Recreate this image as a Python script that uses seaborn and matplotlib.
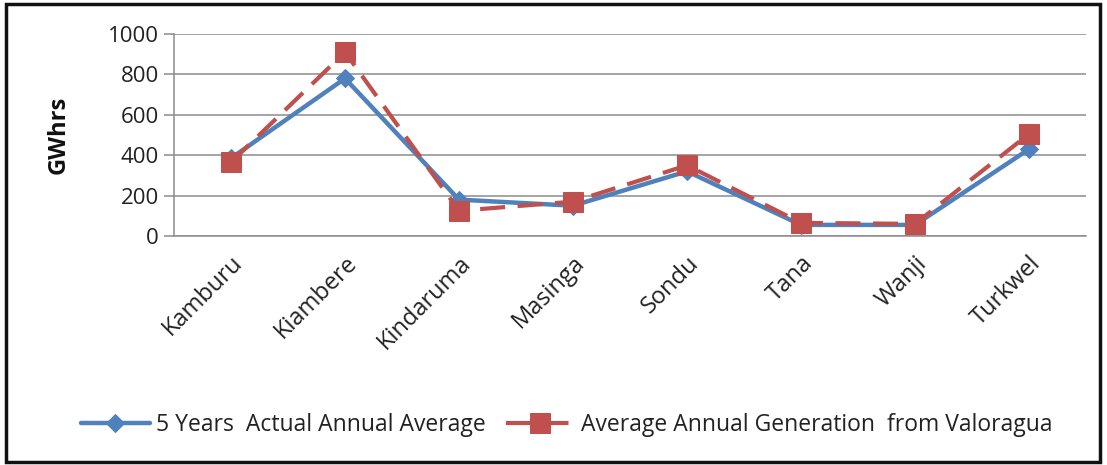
import matplotlib
matplotlib.use("Agg")
import matplotlib.pyplot as plt
from matplotlib.patches import Rectangle
import seaborn as sns
import pandas as pd

stations = ["Kamburu", "Kiambere", "Kindaruma", "Masinga", "Sondu", "Tana", "Wanji", "Turkwel"]
actual_avg = [385, 780, 180, 150, 320, 55, 55, 430]
valoragua_avg = [365, 910, 125, 170, 350, 65, 60, 505]
y_ticks = [0, 200, 400, 600, 800, 1000]

label_actual = "5 Years  Actual Annual Average"
label_valoragua = "Average Annual Generation  from Valoragua"

sns.set_theme(style="white")
plt.rcParams["font.family"] = ["Open Sans", "DejaVu Sans"]

df = pd.DataFrame({
    "station": stations * 2,
    "pos": list(range(len(stations))) * 2,
    "value": actual_avg + valoragua_avg,
    "series": [label_actual] * len(stations) + [label_valoragua] * len(stations),
})

fig = plt.figure(figsize=(11.07, 4.65), dpi=100)
ax = fig.add_axes([174 / 1107, 1 - 236 / 465, (1086 - 174) / 1107, (236 - 34) / 465])

blue = "#4F81BD"
red = "#C0504D"
text_col = "#222222"

sns.lineplot(data=df[df.series == label_actual], x="pos", y="value", ax=ax,
             color=blue, linewidth=3.2, marker="D", markersize=9.5,
             markeredgecolor=blue, label=label_actual, zorder=3)
sns.lineplot(data=df[df.series == label_valoragua], x="pos", y="value", ax=ax,
             color=red, linewidth=3.0, marker="s", markersize=14,
             markeredgecolor=red, label=label_valoragua, zorder=4)
ax.lines[1].set_dashes([6, 3])

ax.set_xlim(-0.5, len(stations) - 0.5)
ax.set_ylim(0, 1000)
ax.set_yticks(y_ticks)
ax.set_yticklabels([str(v) for v in y_ticks], fontsize=16, color=text_col)
ax.yaxis.grid(True, color="#8C8C8C", linewidth=1.1)
ax.set_axisbelow(True)

# category labels centred on each point; tick marks between categories
ax.set_xticks(range(len(stations)))
ax.set_xticklabels(stations, rotation=45, ha="right", rotation_mode="anchor",
                   fontsize=17, color=text_col)
ax.tick_params(axis="x", length=0, pad=11)
ax.set_xticks([i - 0.5 for i in range(len(stations) + 1)], minor=True)
ax.tick_params(axis="x", which="minor", length=7, width=1.1, color="#8C8C8C", direction="out")
ax.tick_params(axis="y", length=7, width=1.1, color="#8C8C8C", direction="out", left=True, pad=4)

for side in ["top", "right"]:
    ax.spines[side].set_visible(False)
for side in ["left", "bottom"]:
    ax.spines[side].set_color("#8C8C8C")
    ax.spines[side].set_linewidth(1.1)

ax.set_xlabel("")
ax.set_ylabel("GWhrs", fontsize=17, fontweight="bold", color="#111111", labelpad=27)

ax.get_legend().remove()
handles, labels = ax.get_legend_handles_labels()
fig.legend(handles, labels, loc="center", bbox_to_anchor=(0.512, 1 - 425 / 465), ncol=2,
           frameon=False, fontsize=16.5, handlelength=3.0, columnspacing=0.85,
           handletextpad=0.3, labelcolor=text_col)

# outer chart frame
fig.patches.append(Rectangle((6 / 1107, 3 / 465), 1094 / 1107, 458 / 465,
                             transform=fig.transFigure, fill=False,
                             edgecolor="#111111", linewidth=2.5))

fig.savefig("out.png", dpi=100, facecolor="white")
